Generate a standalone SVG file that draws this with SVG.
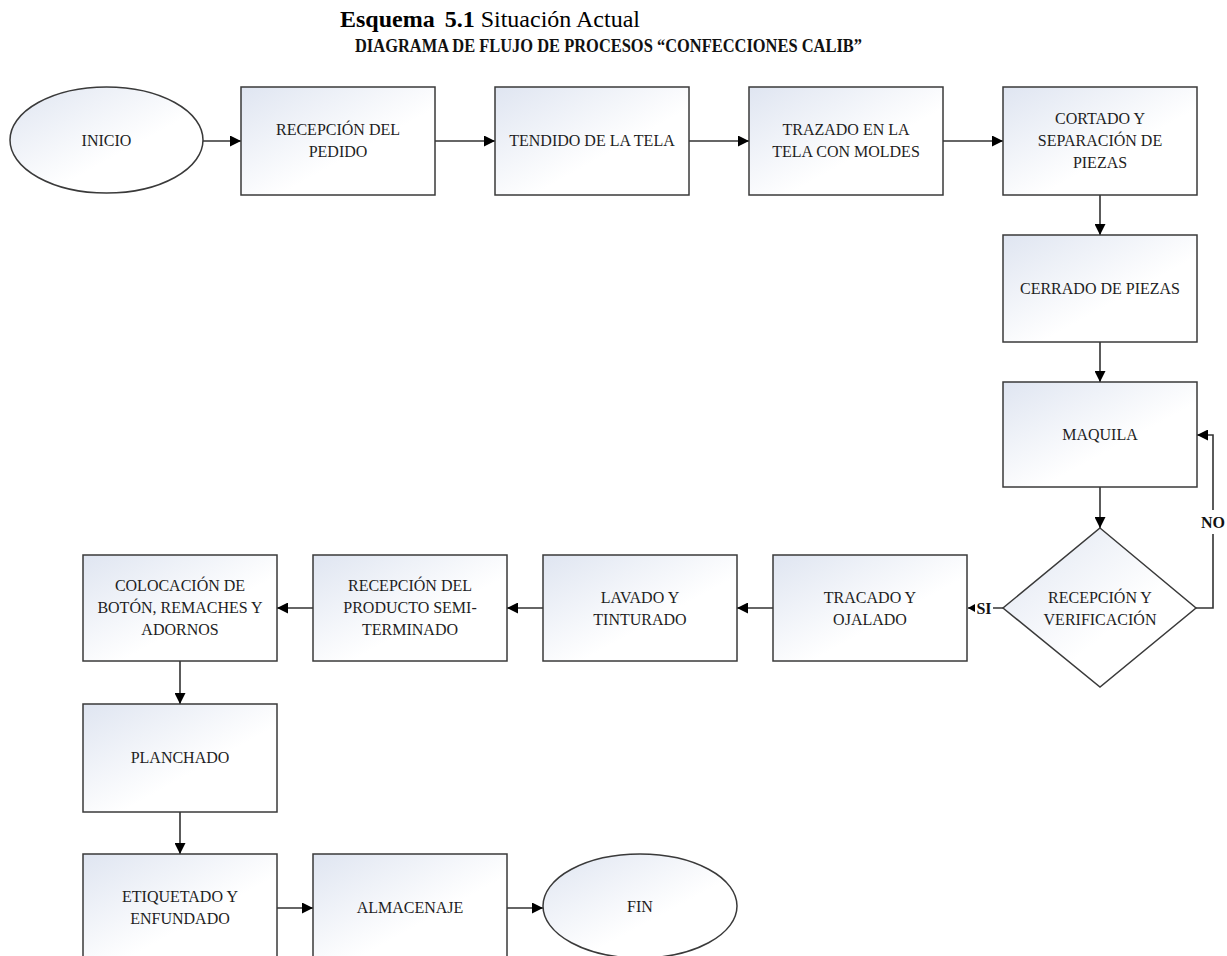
<svg xmlns="http://www.w3.org/2000/svg" width="1227" height="956" viewBox="0 0 1227 956">
<style>
.box{fill:url(#g);stroke:#3a3a3a;stroke-width:1.5}
.t{font-family:"Liberation Serif","Times New Roman",serif;font-size:16px;fill:#1e1e1e;text-anchor:middle}
.c{fill:none;stroke:#333;stroke-width:1.6}
.lb{font-family:"Liberation Serif","Times New Roman",serif;font-size:16px;font-weight:bold;fill:#111;text-anchor:middle}
.h1{font-family:"Liberation Serif","Times New Roman",serif;font-size:24px;fill:#000}
.h2{font-family:"Liberation Serif","Times New Roman",serif;font-size:19px;font-weight:bold;fill:#111}
</style>
<defs>
<linearGradient id="g" x1="0" y1="0" x2="1" y2="1">
<stop offset="0" stop-color="#dfe5f1"/>
<stop offset="0.6" stop-color="#ffffff"/>
</linearGradient>
<marker id="a" markerUnits="userSpaceOnUse" markerWidth="12" markerHeight="11" refX="11" refY="5.5" orient="auto">
<path d="M0,0 L11,5.5 L0,11 Z" fill="#000"/>
</marker>
<marker id="s" markerUnits="userSpaceOnUse" markerWidth="8" markerHeight="8" refX="7" refY="4" orient="auto">
<path d="M0,0 L7,4 L0,8 Z" fill="#000"/>
</marker>
</defs>
<rect width="1227" height="956" fill="#fff"/>

<g id="title">
<text class="h1" x="340" y="27"><tspan font-weight="bold">Esquema</tspan><tspan dx="10" font-weight="bold">5.1</tspan><tspan> Situación Actual</tspan></text>
<text class="h2" x="355" y="52" textLength="507" lengthAdjust="spacingAndGlyphs">DIAGRAMA DE FLUJO DE PROCESOS “CONFECCIONES CALIB”</text>
</g>

<g id="connectors">
<path class="c" d="M203,141 H241" marker-end="url(#a)"/>
<path class="c" d="M435,141 H495" marker-end="url(#a)"/>
<path class="c" d="M689,141 H749" marker-end="url(#a)"/>
<path class="c" d="M943,141 H1003" marker-end="url(#a)"/>
<path class="c" d="M1100,195 V235" marker-end="url(#a)"/>
<path class="c" d="M1100,342 V382" marker-end="url(#a)"/>
<path class="c" d="M1100,487 V528" marker-end="url(#a)"/>
<path class="c" d="M1196,608 H1213 V435 H1197" marker-end="url(#a)"/>
<path class="c" d="M1003,608 H968" marker-end="url(#s)"/>
<path class="c" d="M773,608 H737" marker-end="url(#a)"/>
<path class="c" d="M543,608 H507" marker-end="url(#a)"/>
<path class="c" d="M313,608 H277" marker-end="url(#a)"/>
<path class="c" d="M180,661 V704" marker-end="url(#a)"/>
<path class="c" d="M180,812 V854" marker-end="url(#a)"/>
<path class="c" d="M277,908 H313" marker-end="url(#a)"/>
<path class="c" d="M507,908 H543" marker-end="url(#a)"/>
<rect x="1200" y="510" width="27" height="24" fill="#fff"/>
<text class="lb" x="1213" y="528">NO</text>
<rect x="975" y="598" width="18" height="20" fill="#fff"/>
<text class="lb" x="984" y="614">SI</text>
</g>

<g id="inicio">
<ellipse class="box" cx="106.5" cy="140" rx="96.5" ry="53"/>
<text class="t" x="106.5" y="146">INICIO</text>
</g>
<g id="recepcion_pedido">
<rect class="box" x="241" y="87" width="194" height="108"/>
<text class="t" x="338" y="135">RECEPCIÓN DEL</text>
<text class="t" x="338" y="157">PEDIDO</text>
</g>
<g id="tendido">
<rect class="box" x="495" y="87" width="194" height="108"/>
<text class="t" x="592" y="146">TENDIDO DE LA TELA</text>
</g>
<g id="trazado">
<rect class="box" x="749" y="87" width="194" height="108"/>
<text class="t" x="846" y="135">TRAZADO EN LA</text>
<text class="t" x="846" y="157">TELA CON MOLDES</text>
</g>
<g id="cortado">
<rect class="box" x="1003" y="87" width="194" height="108"/>
<text class="t" x="1100" y="124">CORTADO Y</text>
<text class="t" x="1100" y="146">SEPARACIÓN DE</text>
<text class="t" x="1100" y="168">PIEZAS</text>
</g>
<g id="cerrado">
<rect class="box" x="1003" y="235" width="194" height="107"/>
<text class="t" x="1100" y="294">CERRADO DE PIEZAS</text>
</g>
<g id="maquila">
<rect class="box" x="1003" y="382" width="194" height="105"/>
<text class="t" x="1100" y="440">MAQUILA</text>
</g>
<g id="recepcion_verificacion">
<polygon class="box" points="1100,528 1196,608 1100,687 1003,608"/>
<text class="t" x="1100" y="603">RECEPCIÓN Y</text>
<text class="t" x="1100" y="625">VERIFICACIÓN</text>
</g>
<g id="tracado">
<rect class="box" x="773" y="555" width="194" height="106"/>
<text class="t" x="870" y="603">TRACADO Y</text>
<text class="t" x="870" y="625">OJALADO</text>
</g>
<g id="lavado">
<rect class="box" x="543" y="555" width="194" height="106"/>
<text class="t" x="640" y="603">LAVADO Y</text>
<text class="t" x="640" y="625">TINTURADO</text>
</g>
<g id="recepcion_producto">
<rect class="box" x="313" y="555" width="194" height="106"/>
<text class="t" x="410" y="591">RECEPCIÓN DEL</text>
<text class="t" x="410" y="613">PRODUCTO SEMI-</text>
<text class="t" x="410" y="635">TERMINADO</text>
</g>
<g id="colocacion">
<rect class="box" x="83" y="555" width="194" height="106"/>
<text class="t" x="180" y="591">COLOCACIÓN DE</text>
<text class="t" x="180" y="613">BOTÓN, REMACHES Y</text>
<text class="t" x="180" y="635">ADORNOS</text>
</g>
<g id="planchado">
<rect class="box" x="83" y="704" width="194" height="108"/>
<text class="t" x="180" y="763">PLANCHADO</text>
</g>
<g id="etiquetado">
<rect class="box" x="83" y="854" width="194" height="108"/>
<text class="t" x="180" y="902">ETIQUETADO Y</text>
<text class="t" x="180" y="924">ENFUNDADO</text>
</g>
<g id="almacenaje">
<rect class="box" x="313" y="854" width="194" height="108"/>
<text class="t" x="410" y="913">ALMACENAJE</text>
</g>
<g id="fin">
<ellipse class="box" cx="640" cy="906" rx="97" ry="52"/>
<text class="t" x="640" y="912">FIN</text>
</g>
</svg>
